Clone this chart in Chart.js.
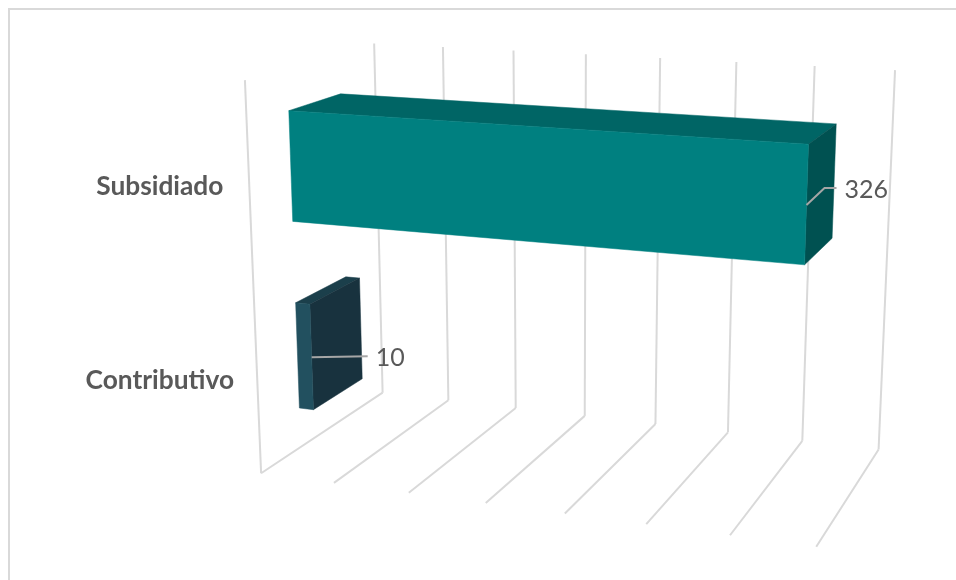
<!DOCTYPE html>
<html>
<head>
<meta charset="utf-8">
<style>html,body{margin:0;padding:0;background:#fff}canvas{display:block}</style>
<script src="https://cdn.jsdelivr.net/npm/chart.js@4"></script>
</head>
<body>
<canvas id="c" width="956" height="580"></canvas>
<script>
// Data
const categories = ['Subsidiado', 'Contributivo'];
const afiliados = [326, 10];
const axisTicksMax = 350;
const axisStep = 50;

// Face colours per bar
const frontColors = ['#008080', '#22505f'];
const topColors = ['#006565', '#1b3f4b'];
const sideColors = ['#005151', '#18323e'];

// Camera calibration: scene (u along value, v up, w into depth) to canvas pixels
const cameraFrame = [
  [0, 0, 0, 261, 473], [0, 1, 0, 245, 80],
  [0, 0, 1, 383, 393], [0, 1, 1, 374, 43],
  [1, 0, 0, 816, 547], [1, 0, 1, 879, 449],
  [1, 1, 1, 895, 70],
  [3 / 7, 0, 1, 584, 416], [3 / 7, 1, 1, 586, 55], [3 / 7, 0, 0, 486, 503]
];
const barDepth = [0.3, 0.705];
// Leader line bends, relative to the bar's front edge
const leaderPaths = [[[18, -17], [30, -17]], [[56, -1]]];

function solveCamera(points) {
  const n = 11, A = Array.from({length: n}, () => new Array(n + 1).fill(0));
  const addRow = (row, rhs) => {
    for (let i = 0; i < n; i++) {
      for (let j = 0; j < n; j++) A[i][j] += row[i] * row[j];
      A[i][n] += row[i] * rhs;
    }
  };
  points.forEach(([u, v, w, sx, sy]) => {
    const x = sx / 1000, y = sy / 1000;
    addRow([u, v, w, 1, 0, 0, 0, 0, -x * u, -x * v, -x * w], x);
    addRow([0, 0, 0, 0, u, v, w, 1, -y * u, -y * v, -y * w], y);
  });
  for (let i = 0; i < n; i++) {
    let best = i;
    for (let r = i + 1; r < n; r++) if (Math.abs(A[r][i]) > Math.abs(A[best][i])) best = r;
    [A[i], A[best]] = [A[best], A[i]];
    for (let r = 0; r < n; r++) {
      if (r === i) continue;
      const f = A[r][i] / A[i][i];
      for (let c = i; c <= n; c++) A[r][c] -= f * A[i][c];
    }
  }
  return A.map((row, i) => row[n] / row[i]);
}
const cam = solveCamera(cameraFrame);
function project(u, v, w) {
  const d = cam[8] * u + cam[9] * v + cam[10] * w + 1;
  return [
    1000 * (cam[0] * u + cam[1] * v + cam[2] * w + cam[3]) / d,
    1000 * (cam[4] * u + cam[5] * v + cam[6] * w + cam[7]) / d
  ];
}

function polygon(ctx, pts, fill) {
  ctx.beginPath();
  pts.forEach((p, i) => i ? ctx.lineTo(p[0], p[1]) : ctx.moveTo(p[0], p[1]));
  ctx.closePath();
  ctx.fillStyle = fill;
  ctx.fill();
  ctx.strokeStyle = fill;
  ctx.lineWidth = 0.5;
  ctx.stroke();
}
function line(ctx, a, b) {
  ctx.beginPath();
  ctx.moveTo(a[0], a[1]);
  ctx.lineTo(b[0], b[1]);
  ctx.stroke();
}

// Scene helpers: convert scale pixels to normalised scene coordinates
const toU = (chart, px) => (px - chart.chartArea.left) / chart.chartArea.width;
const toV = (chart, py) => (chart.chartArea.bottom - py) / chart.chartArea.height;

const perspectivePlugin = {
  id: 'perspective',
  beforeDatasetsDraw(chart) {
    const ctx = chart.ctx, xs = chart.scales.x;
    ctx.save();
    // chart frame
    ctx.strokeStyle = '#d9d9d9';
    ctx.lineWidth = 2;
    ctx.beginPath();
    ctx.moveTo(9, chart.height);
    ctx.lineTo(9, 9);
    ctx.lineTo(chart.width, 9);
    ctx.stroke();
    // back wall and floor gridlines, one for each axis tick
    xs.ticks.forEach((t, i) => {
      const u = toU(chart, xs.getPixelForValue(t.value));
      const backTop = project(u, 1, 1), backBottom = project(u, 0, 1), front = project(u, 0, 0);
      ctx.lineWidth = 2;
      line(ctx, backTop, backBottom);
      line(ctx, backBottom, front);
      if (i === 0) line(ctx, front, project(u, 1, 0));
    });
    ctx.restore();
  },
  beforeDatasetDraw(chart, args) {
    const ctx = chart.ctx, meta = args.meta;
    const [w0, w1] = barDepth;
    ctx.save();
    meta.data.forEach((bar, i) => {
      const u0 = toU(chart, bar.base), u1 = toU(chart, bar.x);
      const v1 = toV(chart, bar.y - bar.height / 2), v0 = toV(chart, bar.y + bar.height / 2);
      polygon(ctx, [project(u0, v1, w0), project(u1, v1, w0), project(u1, v1, w1), project(u0, v1, w1)], topColors[i]);
      polygon(ctx, [project(u1, v0, w0), project(u1, v1, w0), project(u1, v1, w1), project(u1, v0, w1)], sideColors[i]);
      polygon(ctx, [project(u0, v0, w0), project(u1, v0, w0), project(u1, v1, w0), project(u0, v1, w0)], frontColors[i]);
    });
    ctx.restore();
    return false; // the projected faces replace the flat rectangles
  },
  afterDatasetsDraw(chart) {
    const ctx = chart.ctx, meta = chart.getDatasetMeta(0);
    ctx.save();
    meta.data.forEach((bar, i) => {
      const start = project(toU(chart, bar.x), toV(chart, bar.y), barDepth[0]);
      ctx.strokeStyle = '#a6a6a6';
      ctx.lineWidth = 2;
      ctx.beginPath();
      ctx.moveTo(start[0], start[1]);
      let end = start;
      leaderPaths[i].forEach(([dx, dy]) => {
        end = [start[0] + dx, start[1] + dy];
        ctx.lineTo(end[0], end[1]);
      });
      ctx.stroke();
      ctx.fillStyle = '#595959';
      ctx.font = '25px Lato, "Open Sans", sans-serif';
      ctx.textAlign = 'left';
      ctx.textBaseline = 'middle';
      ctx.fillText(String(afiliados[i]), end[0] + 8, end[1] + 2);
    });
    ctx.restore();
  }
};

new Chart(document.getElementById('c'), {
  type: 'bar',
  data: {
    labels: categories,
    datasets: [{
      data: afiliados,
      backgroundColor: frontColors,
      categoryPercentage: 0.57,
      barPercentage: 1
    }]
  },
  options: {
    indexAxis: 'y',
    responsive: false,
    animation: false,
    layout: {padding: {left: 61, right: 76, top: 90, bottom: 102}},
    plugins: {legend: {display: false}, title: {display: false}, tooltip: {enabled: false}},
    scales: {
      x: {
        display: false,
        min: 0,
        max: axisTicksMax,
        ticks: {stepSize: axisStep}
      },
      y: {
        afterFit(scale) { scale.width = 200; },
        grid: {display: false},
        border: {display: false},
        ticks: {
          color: '#595959',
          crossAlign: 'center',
          padding: 19,
          font: {family: 'Lato, "Open Sans", sans-serif', size: 26.3, weight: 'bold'}
        }
      }
    }
  },
  plugins: [perspectivePlugin]
});
</script>
</body>
</html>
